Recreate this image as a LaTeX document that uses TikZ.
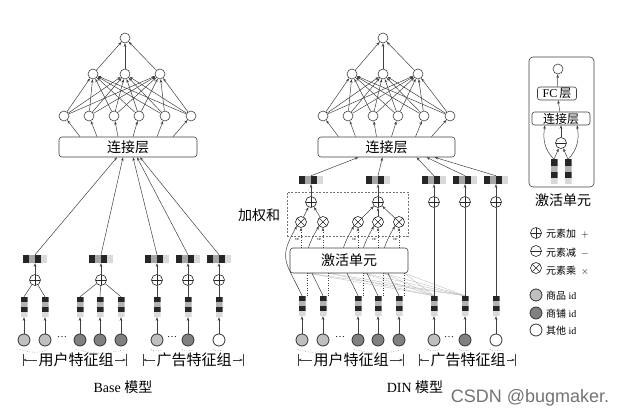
\documentclass[tikz,border=0pt]{standalone}
\usepackage{fontspec}
\setmainfont{Liberation Serif}
\newfontfamily\cjk{Noto Sans CJK SC}
\newfontfamily\wmfont{Liberation Sans}
\usetikzlibrary{arrows.meta, calc, positioning}

\tikzset{
    link/.style={draw=black!75, line width=0.5pt},
    arr/.style={link, ->, >={Stealth[length=3.6pt, width=2.6pt]}},
    neuron/.style={circle, draw=black!75, line width=0.6pt, fill=white, inner sep=0pt, minimum size=10pt},
    layerbox/.style={draw=black!75, line width=0.6pt, rounded corners=3pt, fill=white, inner sep=0pt, font=\fontsize{14}{16}\selectfont\cjk},
    smallbox/.style={draw=black!75, line width=0.6pt, rounded corners=2.5pt, fill=white, inner sep=0pt, font=\fontsize{12}{14}\selectfont},
    opnode/.style={circle, draw=black!85, line width=0.6pt, fill=white, inner sep=0pt, minimum size=11pt},
    addop/.style={opnode, path picture={\draw[black!85, line width=0.6pt] (path picture bounding box.north) -- (path picture bounding box.south) (path picture bounding box.west) -- (path picture bounding box.east);}},
    subop/.style={opnode, path picture={\draw[black!85, line width=0.6pt] (path picture bounding box.west) -- (path picture bounding box.east);}},
    mulop/.style={opnode, path picture={\draw[black!85, line width=0.6pt] (path picture bounding box.north west) -- (path picture bounding box.south east) (path picture bounding box.north east) -- (path picture bounding box.south west);}},
    hemb/.style={rectangle, inner sep=0pt, minimum width=24pt, minimum height=8pt, path picture={
        \foreach \col/\fa/\fb in {black!85/0/0.25, black!35/0.25/0.5, black!85/0.5/0.75, black!15/0.75/1}
            \fill[fill=\col] ($(path picture bounding box.north west)!\fa!(path picture bounding box.north east)$) rectangle ($(path picture bounding box.south west)!\fb!(path picture bounding box.south east)$);}},
    vemb/.style={rectangle, inner sep=0pt, minimum width=7pt, minimum height=20pt, path picture={
        \foreach \col/\fa/\fb in {black!85/0/0.25, black!30/0.25/0.5, black!85/0.5/0.75, black!15/0.75/1}
            \fill[fill=\col] ($(path picture bounding box.north west)!\fa!(path picture bounding box.south west)$) rectangle ($(path picture bounding box.north east)!\fb!(path picture bounding box.south east)$);}},
    idbase/.style={circle, draw=black!80, line width=0.8pt, inner sep=0pt, minimum size=12pt},
    idgoods/.style={idbase, fill=black!25},
    idshop/.style={idbase, fill=black!50},
    idother/.style={idbase, fill=white},
    wbox/.style={draw=black!55, line width=0.5pt, dash pattern=on 2pt off 1.5pt},
    grouplbl/.style={font=\fontsize{15}{17}\selectfont\cjk, inner sep=1pt},
    titlelbl/.style={font=\fontsize{14}{16}\selectfont},
    legtxt/.style={font=\fontsize{10}{12}\selectfont, inner sep=0pt, anchor=west},
    dotarc/.style={draw=black!60, line width=0.5pt, dotted},
    graylink/.style={draw=black!25, line width=0.4pt}
}

\begin{document}
\begin{tikzpicture}[x=1pt, y=-1pt]
    \useasboundingbox (0,0) rectangle (625,414);

    % ---------- Base model ----------
    \node[neuron] (b-o) at (125,38) {};
    \foreach \x [count=\i] in {93,125,160} \node[neuron] (b-h\i) at (\x,74) {};
    \foreach \x [count=\i] in {64,89,114,139,165,191} \node[neuron] (b-g\i) at (\x,116) {};
    \node[layerbox, minimum width=138, minimum height=20] (b-cat) at (128,147) {连接层};

    \foreach \i in {1,2,3} \draw[arr] (b-h\i) -- (b-o);
    \foreach \i in {1,...,6} \foreach \j in {1,2,3} \draw[arr] (b-g\i) -- (b-h\j);
    \foreach \dx [count=\i] in {-48,-31,-10,5,29,45} \draw[arr] ([xshift=\dx pt]b-cat.north) -- (b-g\i);

    \foreach \x [count=\i] in {35,101,157,188,219} {
        \node[hemb] (b-e\i) at (\x,259) {};
        \node[addop] (b-s\i) at (\x,280) {};
        \draw[arr] (b-s\i) -- (b-e\i);
    }
    \foreach \dx [count=\i] in {-11,-5,5,9,12} \draw[arr] (b-e\i.north) -- ([xshift=\dx pt]b-cat.south);

    \foreach \x/\s [count=\i] in {24/idgoods,45/idgoods,80/idshop,100/idshop,121/idshop,157/idgoods,188/idshop,219/idother} {
        \node[vemb] (b-v\i) at (\x,307) {};
        \node[\s] (b-id\i) at (\x,340) {};
        \draw[arr] (b-id\i) -- (b-v\i);
    }
    \foreach \i/\j in {1/1,2/1,3/2,4/2,5/2,6/3,7/4,8/5} \draw[link] (b-v\i.north) -- (b-s\j);
    \node (b-dots1) at (62,337) {\ldots};
    \node (b-dots2) at (172,337) {\ldots};
    \draw[dotarc] ($(b-id1.south)+(-4,3)$) to[bend right=20] ($(b-id2.south)+(4,3)$);
    \draw[dotarc] ($(b-id3.south)+(-4,3)$) to[bend right=15] ($(b-id5.south)+(4,3)$);
    \foreach \i in {6,7,8} \draw[dotarc] ($(b-id\i.south)+(-6,3)$) to[bend right=25] ($(b-id\i.south)+(6,3)$);

    \node[grouplbl] (b-ulab) at (76,360) {用户特征组};
    \coordinate (b-ul) at (23,360);
    \coordinate (b-ur) at (126,360);
    \node[grouplbl] (b-alab) at (194,360) {广告特征组};
    \coordinate (b-al) at (143,360);
    \coordinate (b-ar) at (243,360);
    \foreach \l/\c in {b-ulab/b-ul,b-ulab/b-ur,b-alab/b-al,b-alab/b-ar} {
        \draw[arr] (\l) -- (\c);
        \draw[link] (\c) ++(0,-6) -- ++(0,12);
    }
    \node[titlelbl] (b-title) at (123,387) {Base {\cjk 模型}};

    % ---------- DIN model ----------
    \node[neuron] (d-o) at (383,38) {};
    \foreach \x [count=\i] in {352,383,418} \node[neuron] (d-h\i) at (\x,74) {};
    \foreach \x [count=\i] in {323,348,373,398,424,450} \node[neuron] (d-g\i) at (\x,116) {};
    \node[layerbox, minimum width=137, minimum height=20] (d-cat) at (386.5,147) {连接层};

    \foreach \i in {1,2,3} \draw[arr] (d-h\i) -- (d-o);
    \foreach \i in {1,...,6} \foreach \j in {1,2,3} \draw[arr] (d-g\i) -- (d-h\j);
    \foreach \dx [count=\i] in {-48,-31,-10,5,29,45} \draw[arr] ([xshift=\dx pt]d-cat.north) -- (d-g\i);

    \foreach \x [count=\i] in {311,378,434,465,496} {
        \node[hemb] (d-e\i) at (\x,180) {};
        \node[addop] (d-s\i) at (\x,202) {};
        \draw[arr] (d-s\i) -- (d-e\i);
    }
    \foreach \dx [count=\i] in {-28,-4,30,40,48} \draw[arr] (d-e\i.north) -- ([xshift=\dx pt]d-cat.south);

    \foreach \x [count=\i] in {301,323,358,378,399} \node[mulop] (d-m\i) at (\x,222) {};
    \foreach \i/\j in {1/1,2/1,3/2,4/2,5/2} \draw[arr] (d-m\i) -- (d-s\j);
    \node[wbox, minimum width=121, minimum height=44] (d-wsum) at (347.5,214) {};
    \node[grouplbl, font=\fontsize{14}{16}\selectfont\cjk] (d-wlab) at (259,215) {加权和};

    \foreach \x/\s [count=\i] in {302/idgoods,323/idgoods,358/idshop,378/idshop,399/idshop,434/idgoods,465/idshop,496/idother} {
        \node[vemb] (d-v\i) at (\x,306) {};
        \node[\s] (d-id\i) at (\x,340) {};
        \draw[arr] (d-id\i) -- (d-v\i);
    }
    \coordinate (d-actin) at (349,273);
    % inputs of the activation unit
    \foreach \i in {6,7} \foreach \j in {1,...,5}
        \draw[graylink] (d-v\i.north) -- ([xshift=5pt]d-v\j.north |- d-actin);
    \foreach \i in {1,...,5} {
        \draw[link, dotted] ([xshift=5pt]d-v\i.north) -- ([xshift=5pt]d-v\i.north |- d-actin);
        \draw[arr] (d-v\i.north) to[out=115, in=240, looseness=1.4] (d-m\i.south west);
    }
    \node[layerbox, minimum width=118, minimum height=25] (d-act) at (349,260.5) {激活单元};
    \foreach \i in {1,...,5}
        \draw[arr, dotted] (d-m\i |- d-act.north) -- (d-m\i)
            node[pos=0.4, left, inner sep=1pt, font=\fontsize{5}{5}\selectfont] {$w$};
    \foreach \i/\j in {6/3,7/4,8/5} \draw[link] (d-v\i.north) -- (d-s\j);

    \node (d-dots1) at (340,337) {\ldots};
    \node (d-dots2) at (449,337) {\ldots};
    \draw[dotarc] ($(d-id1.south)+(-4,3)$) to[bend right=20] ($(d-id2.south)+(4,3)$);
    \draw[dotarc] ($(d-id3.south)+(-4,3)$) to[bend right=15] ($(d-id5.south)+(4,3)$);
    \foreach \i in {6,7,8} \draw[dotarc] ($(d-id\i.south)+(-6,3)$) to[bend right=25] ($(d-id\i.south)+(6,3)$);

    \node[grouplbl] (d-ulab) at (351,360) {用户特征组};
    \coordinate (d-ul) at (298,360);
    \coordinate (d-ur) at (403,360);
    \node[grouplbl] (d-alab) at (468,360) {广告特征组};
    \coordinate (d-al) at (419,360);
    \coordinate (d-ar) at (515,360);
    \foreach \l/\c in {d-ulab/d-ul,d-ulab/d-ur,d-alab/d-al,d-alab/d-ar} {
        \draw[arr] (\l) -- (\c);
        \draw[link] (\c) ++(0,-6) -- ++(0,12);
    }
    \node[titlelbl] (d-title) at (415,387) {DIN {\cjk 模型}};

    % ---------- activation unit detail ----------
    \node[draw=black!75, line width=0.6pt, rounded corners=4pt, minimum width=65, minimum height=130] (a-box) at (561.5,122) {};
    \node[neuron] (a-o) at (558,69) {};
    \node[smallbox, minimum width=39, minimum height=13] (a-fc) at (557,93.5) {FC\,{\cjk 层}};
    \node[smallbox, minimum width=58, minimum height=13] (a-cat) at (561,118.5) {\cjk 连接层};
    \node[subop] (a-sub) at (561,143) {};
    \node[vemb, minimum height=25] (a-v1) at (554,172) {};
    \node[vemb, minimum height=25] (a-v2) at (568,172) {};
    \draw[arr] (a-fc) -- (a-o);
    \draw[arr] (a-cat) -- (a-fc);
    \draw[arr] (a-sub) -- (a-cat);
    \draw[arr] (a-v1.north) -- (a-sub);
    \draw[arr] (a-v2.north) -- (a-sub);
    \draw[arr] (a-v1.north) to[out=135, in=-100] ([xshift=-16pt]a-cat.south);
    \draw[arr] (a-v2.north) to[out=45, in=-80] ([xshift=16pt]a-cat.south);
    \node[titlelbl, font=\fontsize{14}{16}\selectfont\cjk] (a-title) at (563,200) {激活单元};

    % ---------- legend ----------
    \node[addop] (l-add) at (536,233) {};
    \node[subop] (l-sub) at (536,251) {};
    \node[mulop] (l-mul) at (536,268) {};
    \node[idgoods] (l-goods) at (536,295) {};
    \node[idshop] (l-shop) at (536,313) {};
    \node[idother] (l-other) at (536,330) {};
    \node[legtxt] (l-addt) at (546,234) {{\cjk 元素加}\ \ $+$};
    \node[legtxt] (l-subt) at (546,253) {{\cjk 元素减}\ \ $-$};
    \node[legtxt] (l-mult) at (546,271) {{\cjk 元素乘}\ \ $\times$};
    \node[legtxt] (l-goodst) at (546,296) {{\cjk 商品} id};
    \node[legtxt] (l-shopt) at (546,314) {{\cjk 商铺} id};
    \node[legtxt] (l-othert) at (546,331) {{\cjk 其他} id};

    \node[text=black!55, font=\wmfont\fontsize{18}{20}\selectfont, inner sep=0pt] (wm) at (530,398) {CSDN @bugmaker.};
\end{tikzpicture}
\end{document}
